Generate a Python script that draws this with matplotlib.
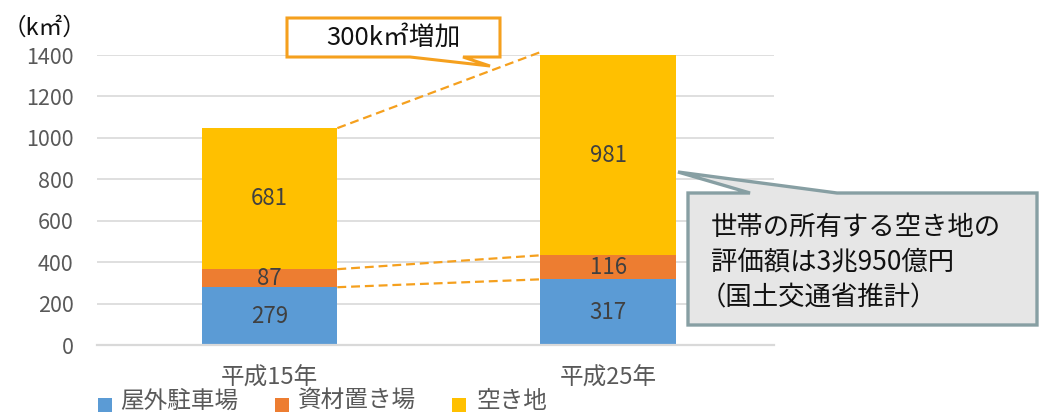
import matplotlib
matplotlib.use("Agg")
import matplotlib.pyplot as plt
from matplotlib.patches import Polygon, Rectangle
from matplotlib.transforms import Affine2D

plt.rcParams['font.family'] = ['Noto Sans CJK JP', 'DejaVu Sans']

categories = ['平成15年', '平成25年']
series_names = ['屋外駐車場', '資材置き場', '空き地']
parking = [279, 317]
materials = [87, 116]
vacant = [681, 981]
yticks = [0, 200, 400, 600, 800, 1000, 1200, 1400]
colors = ['#5B9BD5', '#ED7D31', '#FFC000']

W, H = 1039, 413
fig = plt.figure(figsize=(W / 100, H / 100), dpi=100)
px = Affine2D().scale(1 / W, -1 / H).translate(0, 1) + fig.transFigure

ax = fig.add_axes([97 / W, 1 - 345 / H, (774 - 97) / W, (345 - 55) / H])
x = list(range(len(categories)))
bw = 0.4
b0 = [0] * len(x)
b1 = [p for p in parking]
b2 = [p + m for p, m in zip(parking, materials)]
tops = [p + m + v for p, m, v in zip(parking, materials, vacant)]
for vals, bottom, c in zip([parking, materials, vacant], [b0, b1, b2], colors):
    ax.bar([xi + 0.01 for xi in x], vals, bw, bottom=bottom, color=c, zorder=2)
    for xi, v, b in zip(x, vals, bottom):
        yc = b + v / 2
        if v + b > 1400:
            yc = b + (1400 - b) / 2
        ax.text(xi + 0.01, yc, str(v), ha='center', va='center', fontsize=16,
                color='#404040', zorder=3)

ax.set_xlim(-0.5, 1.5)
ax.set_ylim(0, 1400)
ax.set_yticks(yticks)
ax.set_yticklabels([str(t) for t in yticks], fontsize=15.5, color='#595959')
ax.tick_params(axis='y', length=0, pad=17)
ax.set_xticks([])
ax.yaxis.grid(True, color='#D9D9D9', lw=1.2, zorder=0)
ax.set_axisbelow(True)
for s in ['top', 'right', 'left']:
    ax.spines[s].set_visible(False)
ax.spines['bottom'].set_color('#D9D9D9')
ax.spines['bottom'].set_linewidth(1.6)

# category labels
for xi, c in zip(x, categories):
    ax.text(xi + 0.01, -33 / 290 * 1400, c, ha='center', va='center', fontsize=17,
            color='#595959', clip_on=False)

# dashed connectors
for a, b in [(tops[0], tops[1]), (b2[0], b2[1]), (b1[0], b1[1])]:
    ax.plot([0.01 + bw / 2, 1.01 - bw / 2], [a, b], color='#F5A01E', lw=1.6,
            dashes=(4, 2.2), clip_on=False, zorder=4)

# unit label
fig.text(3, 28, '（k㎡）', transform=px, ha='left', va='center',
         fontsize=17, color='#111111')

# callout 1
poly1 = Polygon([(287, 18), (500, 18), (500, 57), (463, 57), (490, 66),
                 (410, 57), (287, 57)], closed=True, facecolor='white',
                edgecolor='#F5A01E', lw=2.2, transform=px, zorder=5)
fig.add_artist(poly1)
fig.text(393, 38, '300k㎡増加', transform=px, ha='center', va='center',
         fontsize=18.5, color='#111111', zorder=6)

# callout 2
poly2 = Polygon([(688, 193), (750, 193), (678, 172), (837, 193), (1037, 193),
                 (1037, 325), (688, 325)], closed=True, facecolor='#E6E6E6',
                edgecolor='#879FA3', lw=2.4, transform=px, zorder=5)
fig.add_artist(poly2)
lines = ['世帯の所有する空き地の', '評価額は3兆950億円', '（国土交通省推計）']
offsets = [0, 0, -11]
for i, (t, dx) in enumerate(zip(lines, offsets)):
    fig.text(711 + dx, 227 + i * 35.5, t, transform=px, ha='left', va='center',
             fontsize=19, color='#111111', zorder=6)

# legend
leg_sq_x = [98, 275, 452]
leg_tx_x = [120, 298, 477]
for sx, tx, name, c in zip(leg_sq_x, leg_tx_x, series_names, colors):
    fig.add_artist(Rectangle((sx, 412), 14, -14, transform=px, facecolor=c,
                             edgecolor='none'))
    fig.text(tx, 401, name, transform=px, ha='left', va='center',
             fontsize=17, color='#595959')

fig.savefig('out.png', dpi=100)
